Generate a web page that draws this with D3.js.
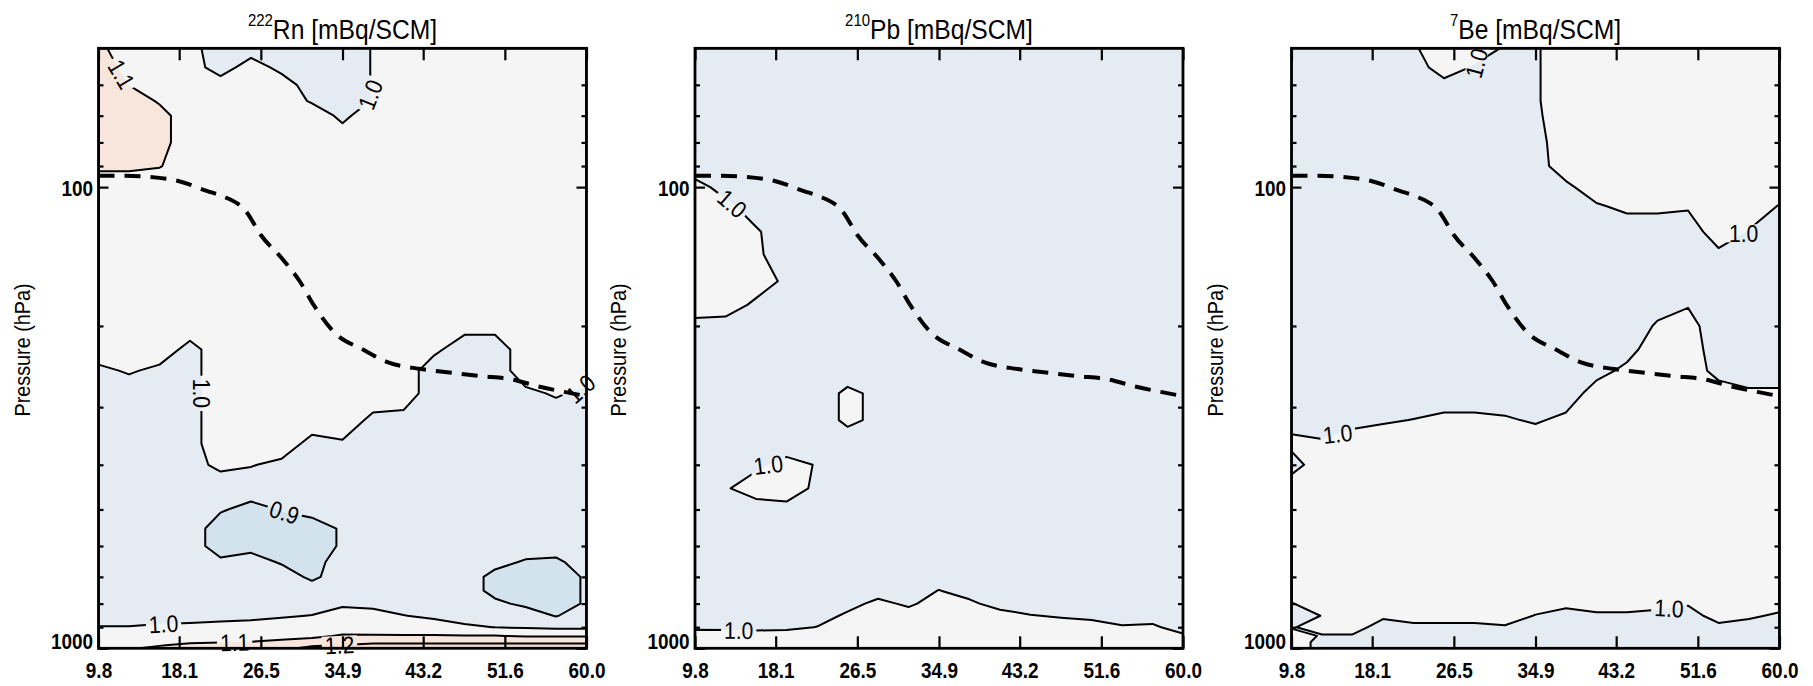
<!DOCTYPE html>
<html>
<head>
<meta charset="utf-8">
<script src="https://cdn.jsdelivr.net/npm/d3@7"></script>
<style>
  body { margin: 0; background: #fff; }
  svg text { font-family: "Liberation Sans", Arial, sans-serif; }
</style>
</head>
<body>
<svg id="chart" width="1813" height="686"></svg>
<script>
// grid columns (latitude) and rows (pressure, top -> bottom)
const lats = [9.8, 12.94, 16.08, 19.21, 22.35, 25.49, 28.63, 31.76, 34.9, 38.04, 41.18, 44.31, 47.45, 50.59, 53.73, 56.86, 60.0];
const levels = [50, 55, 60, 65, 70, 80, 90, 100, 110, 125, 140, 160, 180, 200, 225, 250, 280, 320, 360, 400,
                450, 500, 550, 600, 650, 700, 750, 800, 850, 900, 940, 970, 985, 1000];

// 222Rn ratio field
const rnGrid = [
  [1.12,1.05,1.05,1.03,0.95,0.95,0.95,0.95,0.95,1.005,1.05,1.05,1.05,1.05,1.05,1.05,1.05],
  [1.15,1.07,1.05,1.05,0.95,1.05,0.97,0.95,0.95,1.005,1.05,1.05,1.05,1.05,1.05,1.05,1.05],
  [1.15,1.098,1.05,1.05,1.05,1.05,1.05,0.95,0.95,1.005,1.05,1.05,1.05,1.05,1.05,1.05,1.05],
  [1.15,1.15,1.09,1.05,1.05,1.05,1.05,0.99,0.95,1.005,1.05,1.05,1.05,1.05,1.05,1.05,1.05],
  [1.15,1.15,1.13,1.05,1.05,1.05,1.05,1.05,0.98,1.05,1.05,1.05,1.05,1.05,1.05,1.05,1.05],
  [1.15,1.15,1.13,1.05,1.05,1.05,1.05,1.05,1.05,1.05,1.05,1.05,1.05,1.05,1.05,1.05,1.05],
  [1.12,1.12,1.105,1.05,1.05,1.05,1.05,1.05,1.05,1.05,1.05,1.05,1.05,1.05,1.05,1.05,1.05],
  [1.04,1.04,1.04,1.05,1.05,1.05,1.05,1.05,1.05,1.05,1.05,1.05,1.05,1.05,1.05,1.05,1.05],
  [1.05,1.05,1.05,1.05,1.05,1.05,1.05,1.05,1.05,1.05,1.05,1.05,1.05,1.05,1.05,1.05,1.05],
  [1.05,1.05,1.05,1.05,1.05,1.05,1.05,1.05,1.05,1.05,1.05,1.05,1.05,1.05,1.05,1.05,1.05],
  [1.05,1.05,1.05,1.05,1.05,1.05,1.05,1.05,1.05,1.05,1.05,1.05,1.05,1.05,1.05,1.05,1.05],
  [1.05,1.05,1.05,1.05,1.05,1.05,1.05,1.05,1.05,1.05,1.05,1.05,1.05,1.05,1.05,1.05,1.05],
  [1.05,1.05,1.05,1.05,1.05,1.05,1.05,1.05,1.05,1.05,1.05,1.05,1.05,1.05,1.05,1.05,1.05],
  [1.05,1.05,1.05,1.05,1.05,1.05,1.05,1.05,1.05,1.05,1.05,1.05,1.03,1.03,1.05,1.05,1.05],
  [1.05,1.05,1.05,0.97,1.05,1.05,1.05,1.05,1.05,1.05,1.05,1.02,0.95,0.95,1.05,1.05,1.05],
  [0.98,1.01,0.98,0.97,1.05,1.05,1.05,1.05,1.05,1.05,1.05,0.95,0.95,0.95,1.05,1.05,1.05],
  [0.95,0.95,0.95,0.97,1.05,1.05,1.05,1.05,1.05,1.05,1.05,0.95,0.95,0.95,0.98,1.01,0.98],
  [0.95,0.95,0.95,0.97,1.05,1.05,1.05,1.05,1.05,0.98,0.97,0.95,0.95,0.95,0.95,0.95,0.95],
  [0.95,0.95,0.95,0.97,1.05,1.05,1.05,0.97,0.99,0.95,0.95,0.95,0.95,0.95,0.95,0.95,0.95],
  [0.95,0.95,0.95,0.97,1.02,1.005,0.98,0.95,0.95,0.95,0.95,0.95,0.95,0.95,0.95,0.95,0.95],
  [0.95,0.95,0.95,0.97,0.95,0.95,0.95,0.95,0.95,0.95,0.95,0.95,0.95,0.95,0.95,0.95,0.95],
  [0.95,0.95,0.95,0.95,0.91,0.87,0.905,0.93,0.95,0.95,0.95,0.95,0.95,0.95,0.95,0.95,0.95],
  [0.95,0.95,0.95,0.95,0.85,0.85,0.86,0.86,0.91,0.95,0.95,0.95,0.95,0.95,0.95,0.95,0.95],
  [0.95,0.95,0.95,0.95,0.85,0.87,0.86,0.86,0.91,0.95,0.95,0.95,0.95,0.95,0.95,0.95,0.95],
  [0.95,0.95,0.95,0.95,0.92,0.94,0.89,0.86,0.95,0.95,0.95,0.95,0.95,0.93,0.89,0.88,0.95],
  [0.95,0.95,0.95,0.95,0.95,0.95,0.95,0.88,0.95,0.95,0.95,0.95,0.95,0.87,0.86,0.86,0.91],
  [0.95,0.95,0.95,0.95,0.95,0.95,0.95,0.95,0.95,0.95,0.95,0.95,0.95,0.87,0.86,0.86,0.91],
  [0.95,0.95,0.95,0.95,0.95,0.95,0.95,0.95,0.98,0.97,0.95,0.95,0.95,0.92,0.88,0.86,0.91],
  [0.95,0.95,0.95,0.95,0.95,0.95,0.99,1.003,1.05,1.04,1.003,0.98,0.95,0.95,0.95,0.895,0.95],
  [1.005,1.005,1.02,1.03,1.05,1.08,1.05,1.05,1.05,1.05,1.05,1.05,1.02,0.998,0.99,0.98,0.98],
  [1.05,1.05,1.05,1.06,1.07,1.07,1.07,1.08,1.11,1.107,1.105,1.105,1.105,1.105,1.09,1.09,1.09],
  [1.06,1.06,1.07,1.09,1.098,1.102,1.12,1.14,1.16,1.18,1.18,1.18,1.18,1.18,1.18,1.18,1.18],
  [1.07,1.08,1.095,1.12,1.13,1.13,1.15,1.19,1.205,1.23,1.23,1.23,1.23,1.23,1.23,1.23,1.23],
  [1.08,1.09,1.12,1.14,1.15,1.15,1.18,1.22,1.23,1.25,1.25,1.25,1.25,1.25,1.25,1.25,1.25]
];

// 210Pb ratio field
const pbGrid = [
  [0.95,0.95,0.95,0.95,0.95,0.95,0.95,0.95,0.95,0.95,0.95,0.95,0.95,0.95,0.95,0.95,0.95],
  [0.95,0.95,0.95,0.95,0.95,0.95,0.95,0.95,0.95,0.95,0.95,0.95,0.95,0.95,0.95,0.95,0.95],
  [0.95,0.95,0.95,0.95,0.95,0.95,0.95,0.95,0.95,0.95,0.95,0.95,0.95,0.95,0.95,0.95,0.95],
  [0.95,0.95,0.95,0.95,0.95,0.95,0.95,0.95,0.95,0.95,0.95,0.95,0.95,0.95,0.95,0.95,0.95],
  [0.95,0.95,0.95,0.95,0.95,0.95,0.95,0.95,0.95,0.95,0.95,0.95,0.95,0.95,0.95,0.95,0.95],
  [0.95,0.95,0.95,0.95,0.95,0.95,0.95,0.95,0.95,0.95,0.95,0.95,0.95,0.95,0.95,0.95,0.95],
  [0.95,0.95,0.95,0.95,0.95,0.95,0.95,0.95,0.95,0.95,0.95,0.95,0.95,0.95,0.95,0.95,0.95],
  [1.03,0.97,0.95,0.95,0.95,0.95,0.95,0.95,0.95,0.95,0.95,0.95,0.95,0.95,0.95,0.95,0.95],
  [1.05,1.02,0.96,0.95,0.95,0.95,0.95,0.95,0.95,0.95,0.95,0.95,0.95,0.95,0.95,0.95,0.95],
  [1.05,1.05,1.01,0.95,0.95,0.95,0.95,0.95,0.95,0.95,0.95,0.95,0.95,0.95,0.95,0.95,0.95],
  [1.05,1.05,1.02,0.94,0.95,0.95,0.95,0.95,0.95,0.95,0.95,0.95,0.95,0.95,0.95,0.95,0.95],
  [1.05,1.05,1.05,0.98,0.95,0.95,0.95,0.95,0.95,0.95,0.95,0.95,0.95,0.95,0.95,0.95,0.95],
  [1.05,1.05,0.98,0.95,0.95,0.95,0.95,0.95,0.95,0.95,0.95,0.95,0.95,0.95,0.95,0.95,0.95],
  [0.97,0.96,0.95,0.95,0.95,0.95,0.95,0.95,0.95,0.95,0.95,0.95,0.95,0.95,0.95,0.95,0.95],
  [0.95,0.95,0.95,0.95,0.95,0.95,0.95,0.95,0.95,0.95,0.95,0.95,0.95,0.95,0.95,0.95,0.95],
  [0.95,0.95,0.95,0.95,0.95,0.95,0.95,0.95,0.95,0.95,0.95,0.95,0.95,0.95,0.95,0.95,0.95],
  [0.95,0.95,0.95,0.95,0.95,1.02,0.98,0.95,0.95,0.95,0.95,0.95,0.95,0.95,0.95,0.95,0.95],
  [0.95,0.95,0.95,0.95,0.95,1.02,0.98,0.95,0.95,0.95,0.95,0.95,0.95,0.95,0.95,0.95,0.95],
  [0.95,0.95,0.95,0.95,0.95,0.95,0.95,0.95,0.95,0.95,0.95,0.95,0.95,0.95,0.95,0.95,0.95],
  [0.95,0.95,0.98,1.03,0.995,0.95,0.95,0.95,0.95,0.95,0.95,0.95,0.95,0.95,0.95,0.95,0.95],
  [0.95,0.99,1.05,1.05,0.98,0.95,0.95,0.95,0.95,0.95,0.95,0.95,0.95,0.95,0.95,0.95,0.95],
  [0.95,0.95,0.95,0.97,0.95,0.95,0.95,0.95,0.95,0.95,0.95,0.95,0.95,0.95,0.95,0.95,0.95],
  [0.95,0.95,0.95,0.95,0.95,0.95,0.95,0.95,0.95,0.95,0.95,0.95,0.95,0.95,0.95,0.95,0.95],
  [0.95,0.95,0.95,0.95,0.95,0.95,0.95,0.95,0.95,0.95,0.95,0.95,0.95,0.95,0.95,0.95,0.95],
  [0.95,0.95,0.95,0.95,0.95,0.95,0.95,0.95,0.95,0.95,0.95,0.95,0.95,0.95,0.95,0.95,0.95],
  [0.95,0.95,0.95,0.95,0.95,0.95,0.95,0.95,0.95,0.95,0.95,0.95,0.95,0.95,0.95,0.95,0.95],
  [0.95,0.95,0.95,0.95,0.95,0.95,0.95,0.95,1.003,0.96,0.95,0.95,0.95,0.95,0.95,0.95,0.95],
  [0.95,0.95,0.95,0.95,0.95,0.96,1.03,0.98,1.05,1.02,0.96,0.95,0.95,0.95,0.95,0.95,0.95],
  [0.95,0.95,0.95,0.95,0.95,1.02,1.05,1.05,1.05,1.05,1.04,1.005,0.99,0.97,0.95,0.95,0.95],
  [0.98,0.975,0.97,0.975,1.003,1.05,1.05,1.05,1.05,1.05,1.05,1.05,1.05,1.05,1.01,1.02,0.95],
  [1.05,1.05,1.05,1.05,1.05,1.05,1.05,1.05,1.05,1.05,1.05,1.05,1.05,1.05,1.05,1.05,1.02],
  [1.05,1.05,1.05,1.05,1.05,1.05,1.05,1.05,1.05,1.05,1.05,1.05,1.05,1.05,1.05,1.05,1.05],
  [1.05,1.05,1.05,1.05,1.05,1.05,1.05,1.05,1.05,1.05,1.05,1.05,1.05,1.05,1.05,1.05,1.05],
  [1.05,1.05,1.05,1.05,1.05,1.05,1.05,1.05,1.05,1.05,1.05,1.05,1.05,1.05,1.05,1.05,1.05]
];

// 7Be ratio field
const beGrid = [
  [0.95,0.95,0.95,0.95,0.99,1.05,1.05,0.99,0.99,1.05,1.05,1.05,1.05,1.05,1.05,1.05,1.05],
  [0.95,0.95,0.95,0.95,0.95,1.05,0.99,0.95,0.99,1.05,1.05,1.05,1.05,1.05,1.05,1.05,1.05],
  [0.95,0.95,0.95,0.95,0.95,0.97,0.95,0.95,0.99,1.05,1.05,1.05,1.05,1.05,1.05,1.05,1.05],
  [0.95,0.95,0.95,0.95,0.95,0.95,0.95,0.95,0.99,1.05,1.05,1.05,1.05,1.05,1.05,1.05,1.05],
  [0.95,0.95,0.95,0.95,0.95,0.95,0.95,0.95,0.985,1.05,1.05,1.05,1.05,1.05,1.05,1.05,1.05],
  [0.95,0.95,0.95,0.95,0.95,0.95,0.95,0.95,0.97,1.05,1.05,1.05,1.05,1.05,1.05,1.05,1.05],
  [0.95,0.95,0.95,0.95,0.95,0.95,0.95,0.95,0.96,1.05,1.05,1.05,1.05,1.05,1.05,1.05,1.05],
  [0.95,0.95,0.95,0.95,0.95,0.95,0.95,0.95,0.95,0.98,1.05,1.05,1.05,1.05,1.05,1.05,1.05],
  [0.95,0.95,0.95,0.95,0.95,0.95,0.95,0.95,0.95,0.95,0.99,1.02,1.02,1.01,1.05,1.05,0.995],
  [0.95,0.95,0.95,0.95,0.95,0.95,0.95,0.95,0.95,0.95,0.95,0.95,0.95,0.95,1.05,0.995,0.95],
  [0.95,0.95,0.95,0.95,0.95,0.95,0.95,0.95,0.95,0.95,0.95,0.95,0.95,0.95,0.98,0.95,0.95],
  [0.95,0.95,0.95,0.95,0.95,0.95,0.95,0.95,0.95,0.95,0.95,0.95,0.95,0.95,0.95,0.95,0.95],
  [0.95,0.95,0.95,0.95,0.95,0.95,0.95,0.95,0.95,0.95,0.95,0.95,0.97,0.995,0.95,0.95,0.95],
  [0.95,0.95,0.95,0.95,0.95,0.95,0.95,0.95,0.95,0.95,0.95,0.95,1.01,1.03,0.95,0.95,0.95],
  [0.95,0.95,0.95,0.95,0.95,0.95,0.95,0.95,0.95,0.95,0.95,0.97,1.05,1.05,0.95,0.95,0.95],
  [0.95,0.95,0.95,0.95,0.95,0.95,0.95,0.95,0.95,0.95,0.97,1.02,1.05,1.05,0.97,0.95,0.95],
  [0.95,0.95,0.95,0.95,0.95,0.95,0.95,0.95,0.95,0.95,1.04,1.05,1.05,1.05,1.04,1.015,1.015],
  [0.97,0.96,0.97,0.99,1.002,1.02,1.02,1.01,0.99,1.02,1.05,1.05,1.05,1.05,1.05,1.05,1.05],
  [1.02,1.01,1.05,1.05,1.05,1.05,1.05,1.05,1.05,1.05,1.05,1.05,1.05,1.05,1.05,1.05,1.05],
  [0.965,1.05,1.05,1.05,1.05,1.05,1.05,1.05,1.05,1.05,1.05,1.05,1.05,1.05,1.05,1.05,1.05],
  [1.05,1.05,1.05,1.05,1.05,1.05,1.05,1.05,1.05,1.05,1.05,1.05,1.05,1.05,1.05,1.05,1.05],
  [1.05,1.05,1.05,1.05,1.05,1.05,1.05,1.05,1.05,1.05,1.05,1.05,1.05,1.05,1.05,1.05,1.05],
  [1.05,1.05,1.05,1.05,1.05,1.05,1.05,1.05,1.05,1.05,1.05,1.05,1.05,1.05,1.05,1.05,1.05],
  [1.05,1.05,1.05,1.05,1.05,1.05,1.05,1.05,1.05,1.05,1.05,1.05,1.05,1.05,1.05,1.05,1.05],
  [1.05,1.05,1.05,1.05,1.05,1.05,1.05,1.05,1.05,1.05,1.05,1.05,1.05,1.05,1.05,1.05,1.05],
  [1.05,1.05,1.05,1.05,1.05,1.05,1.05,1.05,1.05,1.05,1.05,1.05,1.05,1.05,1.05,1.05,1.05],
  [1.05,1.05,1.05,1.05,1.05,1.05,1.05,1.05,1.05,1.05,1.05,1.05,1.05,1.05,1.05,1.05,1.05],
  [0.995,1.05,1.05,1.05,1.05,1.05,1.05,1.05,1.05,1.03,1.05,1.05,1.05,1.01,1.05,1.05,1.05],
  [0.95,1.003,1.05,1.02,1.05,1.05,1.05,1.05,0.995,0.95,0.98,0.98,0.95,0.95,1.05,1.02,0.98],
  [0.99,1.05,1.05,0.95,0.97,0.97,0.97,0.99,0.95,0.95,0.95,0.95,0.95,0.95,0.97,0.95,0.95],
  [1.05,0.99,0.99,0.95,0.95,0.95,0.95,0.95,0.95,0.95,0.95,0.95,0.95,0.95,0.95,0.95,0.95],
  [1.05,0.97,0.95,0.95,0.95,0.95,0.95,0.95,0.95,0.95,0.95,0.95,0.95,0.95,0.95,0.95,0.95],
  [1.05,0.97,0.95,0.95,0.95,0.95,0.95,0.95,0.95,0.95,0.95,0.95,0.95,0.95,0.95,0.95,0.95],
  [1.05,0.97,0.95,0.95,0.95,0.95,0.95,0.95,0.95,0.95,0.95,0.95,0.95,0.95,0.95,0.95,0.95]
];

// tropopause (dashed)
const tropLat = [9.8, 12.5, 15.0, 18.0, 21.0, 22.5, 25.0, 26.5, 28.7, 30.5, 32.0, 34.0, 37.0, 39.6, 43.0, 46.3, 49.2, 52.2, 55.2, 58.5, 60.0];
const tropP   = [94.5, 94.5, 95, 97, 102, 104.5, 113, 127, 143, 160, 181, 206, 225, 240, 248, 253, 257, 261, 271, 280, 284];

// contour labels (value, lat, pressure)
const rnLabels = [[1.1, 11.5, 58], [1.0, 37, 63], [1.0, 17.5, 280], [1.0, 59.1, 262], [0.9, 28.9, 510], [1.0, 16.5, 900], [1.1, 23.8, 960], [1.2, 34.6, 985]];
const pbLabels = [[1.0, 14, 106], [1.0, 17.2, 395], [1.0, 14.3, 905]];
const beLabels = [[1.0, 29.1, 55], [1.0, 56.5, 128], [1.0, 14.4, 335], [1.0, 48.8, 870]];

const xTicks = [9.8, 18.1, 26.5, 34.9, 43.2, 51.6, 60.0];
const yMajor = [100, 1000];
const yMinor = [60, 70, 80, 90, 200, 300, 400, 500, 600, 700, 800, 900];
const thresholds = [0.9, 1.0, 1.1, 1.2];
const bandColors = ['#d2e3ee', '#e4ebf3', '#f5f5f5', '#f8e6dc', '#f6dccd'];

const panels = [
  {iso: '222', name: 'Rn', grid: rnGrid, labels: rnLabels},
  {iso: '210', name: 'Pb', grid: pbGrid, labels: pbLabels},
  {iso: '7',   name: 'Be', grid: beGrid, labels: beLabels}
];

const W = 488, H = 600, topY = 48.3;
const panelLeft = [98.5, 695, 1291.5];
const narrow = 0.88;   // horizontal squeeze to get a condensed face

const svg = d3.select('#chart');
const x = d3.scaleLinear().domain([9.8, 60]).range([0, W]);
const y = d3.scaleLog().domain([1000, 50]).range([H, 0]);
const colX = lats.map(x), rowY = levels.map(y);

// grid index coordinate -> pixel (samples sit at index + 0.5)
function along(a, c) {
  const t = Math.max(0, Math.min(a.length - 1, c - 0.5));
  const i = Math.min(a.length - 2, Math.floor(t));
  return a[i] + (t - i) * (a[i + 1] - a[i]);
}
const proj = d3.geoTransform({point(px, py) { this.stream.point(along(colX, px), along(rowY, py)); }});
const path = d3.geoPath(proj);
const contourGen = d3.contours().size([lats.length, levels.length]).thresholds(thresholds);
const fmt1 = d3.format('.1f');

panels.forEach((pn, i) => {
  const g = svg.append('g').attr('transform', `translate(${panelLeft[i]},${topY})`);
  const defs = g.append('defs');
  defs.append('clipPath').attr('id', 'clip' + i)
    .append('rect').attr('width', W).attr('height', H);
  const mask = defs.append('mask').attr('id', 'mask' + i).attr('maskUnits', 'userSpaceOnUse')
    .attr('x', -30).attr('y', -30).attr('width', W + 60).attr('height', H + 60);
  mask.append('rect').attr('x', -30).attr('y', -30).attr('width', W + 60).attr('height', H + 60).attr('fill', '#fff');

  const plot = g.append('g').attr('clip-path', `url(#clip${i})`);
  plot.append('rect').attr('width', W).attr('height', H).attr('fill', bandColors[0]);

  const cs = contourGen(pn.grid.flat());
  plot.selectAll('path.band').data(cs).join('path')
    .attr('class', 'band')
    .attr('d', path)
    .attr('fill', (d, k) => bandColors[k + 1]);

  plot.append('g').attr('mask', `url(#mask${i})`)
    .selectAll('path').data(cs).join('path')
    .attr('d', path)
    .attr('fill', 'none')
    .attr('stroke', '#000')
    .attr('stroke-width', 2)
    .attr('stroke-linejoin', 'round');

  plot.append('path')
    .datum(d3.zip(tropLat, tropP))
    .attr('d', d3.line().x(d => x(d[0])).y(d => y(d[1])).curve(d3.curveMonotoneX))
    .attr('fill', 'none')
    .attr('stroke', '#000')
    .attr('stroke-width', 4)
    .attr('stroke-dasharray', '16,10');

  // contour labels snapped onto their line
  pn.labels.forEach(([v, la, pr]) => {
    const k = thresholds.indexOf(v);
    const tx = x(la), ty = y(pr);
    let best = null;
    cs[k].coordinates.forEach(poly => poly.forEach(ring => {
      const pts = ring.map(([cx, cy]) => [along(colX, cx), along(rowY, cy)]);
      const n = pts.length;
      for (let j = 0; j < n - 1; j++) {
        const [ax, ay] = pts[j], [bx, by] = pts[j + 1];
        if ((ax < 0.5 && bx < 0.5) || (ax > W - 0.5 && bx > W - 0.5) ||
            (ay < 0.5 && by < 0.5) || (ay > H - 0.5 && by > H - 0.5)) continue;
        const dx = bx - ax, dy = by - ay, L2 = dx * dx + dy * dy || 1;
        const t = Math.max(0, Math.min(1, ((tx - ax) * dx + (ty - ay) * dy) / L2));
        const px = ax + t * dx, py = ay + t * dy;
        const d = (px - tx) ** 2 + (py - ty) ** 2;
        if (!best || d < best.d) {
          const p0 = pts[(j - 1 + n) % n], p1 = pts[(j + 2) % n];
          best = {d, px, py, ang: Math.atan2(p1[1] - p0[1], p1[0] - p0[0]) * 180 / Math.PI};
        }
      }
    }));
    if (!best) return;
    let ang = best.ang;
    while (ang > 90) ang -= 180;
    while (ang < -90) ang += 180;
    const tr = `translate(${best.px},${best.py}) rotate(${ang})`;
    const txt = g.append('g').attr('transform', tr)
      .append('text')
      .attr('transform', `scale(${narrow},1)`)
      .attr('text-anchor', 'middle')
      .attr('dy', '0.36em')
      .attr('font-size', 24)
      .text(fmt1(v));
    const w = txt.node().getComputedTextLength() * narrow;
    mask.append('rect').attr('transform', tr)
      .attr('x', -w / 2 - 3).attr('y', -9).attr('width', w + 6).attr('height', 18)
      .attr('fill', '#000');
  });

  // frame
  g.append('rect').attr('width', W).attr('height', H)
    .attr('fill', 'none').attr('stroke', '#000').attr('stroke-width', 2.8);

  const styleAxis = sel => {
    sel.select('.domain').remove();
    sel.selectAll('.tick line').attr('stroke-width', 2.2);
    sel.attr('font-size', 21.5).attr('font-family', '"Liberation Sans", Arial, sans-serif').attr('font-weight', 'bold');
  };

  g.append('g').attr('transform', `translate(0,${H})`)
    .call(d3.axisBottom(x).tickValues(xTicks).tickSize(-12).tickPadding(14).tickFormat(fmt1))
    .call(styleAxis)
    .selectAll('text').attr('transform', `scale(${narrow},1)`);
  g.append('g')
    .call(d3.axisTop(x).tickValues(xTicks).tickSize(-12).tickFormat(''))
    .call(styleAxis);

  const yl = g.append('g')
    .call(d3.axisLeft(y).tickValues(yMajor).tickSize(-10).tickPadding(5).tickFormat(d3.format('d')))
    .call(styleAxis);
  yl.selectAll('text')
    .attr('x', -5.5 / narrow)
    .attr('transform', `scale(${narrow},1)`)
    .attr('dy', d => d === 1000 ? '0em' : '0.4em');
  g.append('g')
    .call(d3.axisLeft(y).tickValues(yMinor).tickSize(-5).tickFormat(''))
    .call(styleAxis);
  g.append('g').attr('transform', `translate(${W},0)`)
    .call(d3.axisRight(y).tickValues(yMajor).tickSize(-10).tickFormat(''))
    .call(styleAxis);
  g.append('g').attr('transform', `translate(${W},0)`)
    .call(d3.axisRight(y).tickValues(yMinor).tickSize(-5).tickFormat(''))
    .call(styleAxis);

  g.append('g')
    .attr('transform', `translate(-69,${350 - topY}) rotate(-90) scale(${narrow},1)`)
    .append('text')
    .attr('text-anchor', 'middle')
    .attr('font-size', 22.5)
    .text('Pressure (hPa)');

  const title = g.append('g')
    .attr('transform', `translate(${W / 2},${38.5 - topY}) scale(${narrow},1)`)
    .append('text')
    .attr('text-anchor', 'middle')
    .attr('font-size', 28);
  title.append('tspan').attr('font-size', 17).attr('dy', -13).text(pn.iso);
  title.append('tspan').attr('dy', 13).text(`${pn.name} [mBq/SCM]`);
});
</script>
</body>
</html>
